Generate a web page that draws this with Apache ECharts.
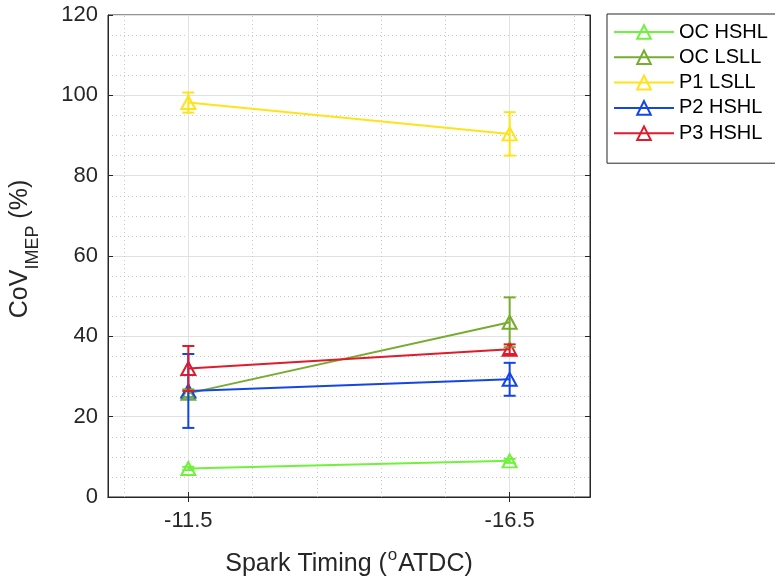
<!DOCTYPE html>
<html>
<head>
<meta charset="utf-8">
<script src="https://cdn.jsdelivr.net/npm/echarts@6/dist/echarts.min.js"></script>
<style>
  html, body { margin: 0; padding: 0; background: #fff; }
  #chart { width: 775px; height: 582px; }
</style>
</head>
<body>
<div id="chart"></div>
<script>
// x positions and their tick labels
const xPos = [1, 2]
const xTickLabels = ['-11.5', '-16.5']
const xMinorGrid = [0.8, 1.2, 1.4, 1.6, 1.8, 2.2]

const seriesNames = ['OC HSHL', 'OC LSLL', 'P1 LSLL', 'P2 HSHL', 'P3 HSHL']
const seriesColors = ['#70f23c', '#77ac30', '#ffe31a', '#1446e6', '#e01b2c']

// mean CoV values
const ocHshl = [7.1, 9.0]
const ocLsll = [25.8, 43.5]
const p1Lsll = [98.2, 90.4]
const p2Hshl = [26.4, 29.3]
const p3Hshl = [32.0, 36.8]

// error (half length of bar)
const ocHshlErr = [0.4, 0.5]
const ocLsllErr = [1.0, 6.2]
const p1LsllErr = [2.5, 5.4]
const p2HshlErr = [9.2, 4.1]
const p3HshlErr = [5.6, 1.2]

const means = [ocHshl, ocLsll, p1Lsll, p2Hshl, p3Hshl]
const errs = [ocHshlErr, ocLsllErr, p1LsllErr, p2HshlErr, p3HshlErr]

const font = 'Liberation Sans, Arial, Helvetica, sans-serif'

const chart = echarts.init(document.getElementById('chart'))

const lineSeries = seriesNames.map((name, i) => {
  return {
    name: name,
    type: 'line',
    data: xPos.map((x, j) => [x, means[i][j]]),
    symbol: 'triangle',
    symbolSize: [14, 13],
    lineStyle: { color: seriesColors[i], width: 2 },
    itemStyle: { color: 'rgba(0,0,0,0)', borderColor: seriesColors[i], borderWidth: 2 },
    emphasis: { disabled: true },
    z: 3
  }
})

const errorSeries = seriesNames.map((name, i) => {
  return {
    name: name,
    type: 'custom',
    data: xPos.map((x, j) => [x, means[i][j] - errs[i][j], means[i][j] + errs[i][j]]),
    renderItem: (params, api) => {
      const lo = api.coord([api.value(0), api.value(1)])
      const hi = api.coord([api.value(0), api.value(2)])
      const w = 6
      const style = { stroke: seriesColors[i], lineWidth: 2, fill: null }
      return {
        type: 'group',
        children: [
          { type: 'line', shape: { x1: lo[0], y1: lo[1], x2: hi[0], y2: hi[1] }, style: style },
          { type: 'line', shape: { x1: lo[0] - w, y1: lo[1], x2: lo[0] + w, y2: lo[1] }, style: style },
          { type: 'line', shape: { x1: hi[0] - w, y1: hi[1], x2: hi[0] + w, y2: hi[1] }, style: style }
        ]
      }
    },
    encode: { x: 0, y: [1, 2] },
    silent: true,
    z: 4
  }
})

const gridSeries = {
  type: 'line',
  data: [],
  silent: true,
  markLine: {
    silent: true,
    symbol: 'none',
    label: { show: false },
    animation: false,
    z: 0,
    data: xMinorGrid.map(v => ({ xAxis: v, lineStyle: { color: '#c8c8c8', type: [1, 3], width: 1 } }))
      .concat(xPos.map(v => ({ xAxis: v, lineStyle: { color: '#e2e2e2', type: 'solid', width: 1 } })))
  },
  z: 0
}

const option = {
  animation: false,
  grid: {
    left: 108, right: 185, top: 15, bottom: 85,
    show: true, borderColor: '#262626', borderWidth: 1
  },
  legend: {
    orient: 'vertical',
    left: 607, top: 14,
    padding: [8, 14, 20, 6],
    itemWidth: 60,
    itemHeight: 17,
    itemGap: 5.3,
    borderColor: '#262626',
    borderWidth: 1,
    backgroundColor: '#fff',
    selectedMode: false,
    data: seriesNames,
    textStyle: { fontFamily: font, fontSize: 20, lineHeight: 20, color: '#000' }
  },
  xAxis: [
    {
      type: 'value', min: 0.75, max: 2.25,
      axisLine: { show: true, lineStyle: { color: '#262626' } },
      axisTick: { show: true, inside: true, length: 5, customValues: xPos, lineStyle: { color: '#262626' } },
      axisLabel: {
        customValues: xPos,
        formatter: v => xTickLabels[xPos.indexOf(v)] || '',
        fontFamily: font, fontSize: 22, color: '#262626', margin: 13
      },
      splitLine: { show: false },
      name: '{t|Spark Timing (}{s|o}{t|ATDC)}',
      nameLocation: 'middle',
      nameGap: 50,
      nameTextStyle: {
        rich: {
          t: { fontFamily: font, fontSize: 25, color: '#262626', lineHeight: 30, verticalAlign: 'bottom' },
          s: { fontFamily: font, fontSize: 17, color: '#262626', lineHeight: 30, verticalAlign: 'top', padding: [0, 1, 0, 1] }
        }
      }
    },
    {
      type: 'value', min: 0.75, max: 2.25, position: 'top',
      axisLine: { show: true, lineStyle: { color: '#262626' } },
      axisTick: { show: true, inside: true, length: 5, customValues: xPos, lineStyle: { color: '#262626' } },
      axisLabel: { show: false },
      splitLine: { show: false }
    }
  ],
  yAxis: [
    {
      type: 'value', min: 0, max: 120, interval: 20,
      axisLine: { show: true, lineStyle: { color: '#262626' } },
      axisTick: { show: true, inside: true, length: 5, lineStyle: { color: '#262626' } },
      axisLabel: { fontFamily: font, fontSize: 22, color: '#262626', margin: 10 },
      splitLine: { show: true, lineStyle: { color: '#e2e2e2', width: 1 } },
      minorTick: { show: false, splitNumber: 4 },
      minorSplitLine: { show: true, lineStyle: { color: '#c8c8c8', type: [1, 3], width: 1 } },
      name: '{t|CoV}{s|IMEP}{t| (%)}',
      nameLocation: 'middle',
      nameGap: 66,
      nameTextStyle: {
        padding: [0, 0, 0, 14],
        rich: {
          t: { fontFamily: font, fontSize: 25, color: '#262626', lineHeight: 34, verticalAlign: 'top' },
          s: { fontFamily: font, fontSize: 18, color: '#262626', lineHeight: 34, verticalAlign: 'bottom' }
        }
      }
    },
    {
      type: 'value', min: 0, max: 120, interval: 20, position: 'right',
      axisLine: { show: true, lineStyle: { color: '#262626' } },
      axisTick: { show: true, inside: true, length: 5, lineStyle: { color: '#262626' } },
      axisLabel: { show: false },
      splitLine: { show: false }
    }
  ],
  series: [gridSeries].concat(lineSeries, errorSeries)
}

chart.setOption(option)
</script>
</body>
</html>
